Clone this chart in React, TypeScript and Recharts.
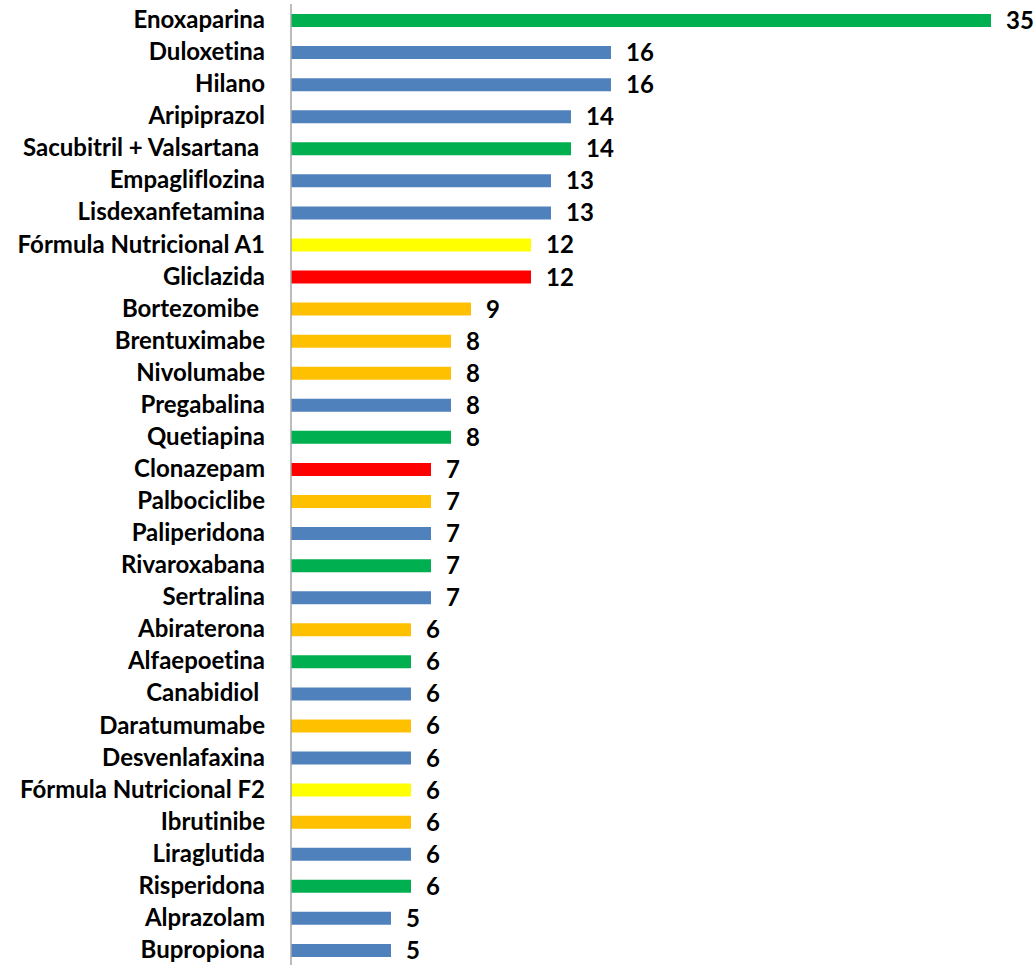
import { BarChart, Bar, XAxis, YAxis, Cell, LabelList } from "recharts";

const GREEN = "#00B050";
const BLUE = "#4F81BD";
const YELLOW = "#FFFF00";
const RED = "#FF0000";
const ORANGE = "#FFC000";

const categories = [
  "Enoxaparina",
  "Duloxetina",
  "Hilano",
  "Aripiprazol",
  "Sacubitril + Valsartana ",
  "Empagliflozina",
  "Lisdexanfetamina",
  "Fórmula Nutricional A1",
  "Gliclazida",
  "Bortezomibe ",
  "Brentuximabe",
  "Nivolumabe",
  "Pregabalina",
  "Quetiapina",
  "Clonazepam",
  "Palbociclibe",
  "Paliperidona",
  "Rivaroxabana",
  "Sertralina",
  "Abiraterona",
  "Alfaepoetina",
  "Canabidiol ",
  "Daratumumabe",
  "Desvenlafaxina",
  "Fórmula Nutricional F2",
  "Ibrutinibe",
  "Liraglutida",
  "Risperidona",
  "Alprazolam",
  "Bupropiona",
];

const values = [35, 16, 16, 14, 14, 13, 13, 12, 12, 9, 8, 8, 8, 8, 7, 7, 7, 7, 7, 6, 6, 6, 6, 6, 6, 6, 6, 6, 5, 5];

const colors = [
  GREEN, BLUE, BLUE, BLUE, GREEN, BLUE, BLUE, YELLOW, RED, ORANGE,
  ORANGE, ORANGE, BLUE, GREEN, RED, ORANGE, BLUE, GREEN, BLUE, ORANGE,
  GREEN, BLUE, ORANGE, BLUE, YELLOW, ORANGE, BLUE, GREEN, BLUE, BLUE,
];

const data = categories.map((name, i) => ({ name, value: values[i], color: colors[i] }));

const FONT = "Lato, 'Open Sans', sans-serif";

function NameTick(props: any) {
  const { x, y, payload } = props;
  return (
    <text
      x={x}
      y={y}
      dy={8}
      textAnchor="end"
      fill="#000"
      fontSize={24}
      fontWeight={700}
      fontFamily={FONT}
      style={{ whiteSpace: "pre", fontVariantLigatures: "none" }}
    >
      {payload.value}
    </text>
  );
}

export default function App() {
  return (
    <div style={{ position: "absolute", left: 0, top: 0, background: "#fff" }}>
      <BarChart
        width={1035}
        height={970}
        data={data}
        layout="vertical"
        margin={{ top: 4, right: 44, bottom: 4, left: 0 }}
        barSize={13}
      >
        <XAxis type="number" domain={[0, 35]} hide />
        <YAxis
          type="category"
          dataKey="name"
          width={291}
          interval={0}
          tickLine={false}
          tickSize={0}
          tickMargin={26}
          axisLine={{ stroke: "#A6A6A6", strokeWidth: 1.5 }}
          tick={<NameTick />}
        />
        <Bar dataKey="value" isAnimationActive={false}>
          {data.map((d, i) => (
            <Cell key={i} fill={d.color} />
          ))}
          <LabelList
            dataKey="value"
            position="right"
            offset={15}
            fill="#000"
            fontSize={24}
            fontWeight={700}
            fontFamily={FONT}
          />
        </Bar>
      </BarChart>
    </div>
  );
}
